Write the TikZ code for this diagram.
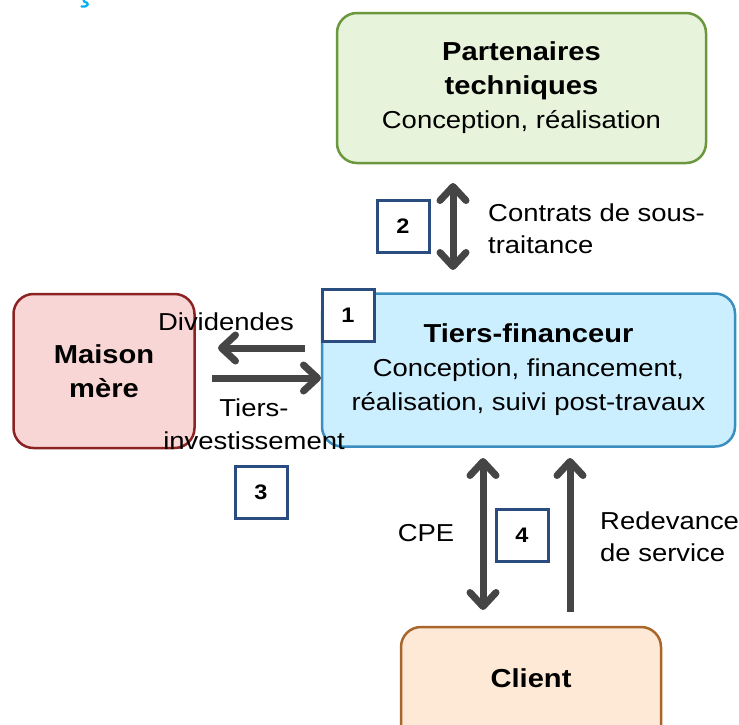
\documentclass[tikz,border=0pt]{standalone}
\usepackage{fontspec}
\setmainfont{Liberation Sans}[FakeStretch=1.12]
\usetikzlibrary{arrows.meta}
\definecolor{gfill}{HTML}{E7F3DA}
\definecolor{gdraw}{HTML}{6B973E}
\definecolor{bfill}{HTML}{CCEFFF}
\definecolor{bdraw}{HTML}{3A8FC0}
\definecolor{pfill}{HTML}{F9D6D6}
\definecolor{pdraw}{HTML}{8C2323}
\definecolor{ofill}{HTML}{FDE9D6}
\definecolor{odraw}{HTML}{A8662A}
\definecolor{navy}{HTML}{2B4C7E}
\definecolor{arrgray}{HTML}{454545}
\definecolor{topblue}{HTML}{00B0F0}
\tikzset{
  box/.style={draw, rounded corners=20pt, line width=2.5pt, align=center, inner sep=0pt,
    font=\fontsize{24.5}{34}\selectfont},
  numbox/.style={draw=navy, line width=3pt, fill=white, minimum width=52pt, minimum height=52pt,
    inner sep=0pt, font=\bfseries\fontsize{21}{25}\selectfont},
  lbl/.style={align=left, inner sep=0pt, font=\fontsize{24.5}{32}\selectfont},
  lblc/.style={align=center, inner sep=0pt, font=\fontsize{24.5}{33}\selectfont},
  arr/.style={line width=7pt, draw=arrgray, -{Straight Barb[length=14pt, width=26pt, round]}},
  darr/.style={line width=7pt, draw=arrgray, {Straight Barb[length=14pt, width=26pt, round]}-{Straight Barb[length=14pt, width=26pt, round]}},
  ttl/.style={font=\bfseries\fontsize{26}{34}\selectfont}
}
\begin{document}
\begin{tikzpicture}[x=1pt, y=-1pt]
\useasboundingbox (0,0) rectangle (739,724);
\fill[white] (0,0) rectangle (739,724);

% top partial glyph fragment (cut off in the reference)
\draw[topblue, line width=2.2pt, line cap=round] (83.5,0) -- (84.5,1.8) .. controls (89.5,2.2) and (89,7.5) .. (81.5,6.5);

% main boxes
\node[box, fill=gfill, draw=gdraw, minimum width=369pt, minimum height=150pt] (part) at (521.5,88)
  {{\bfseries\fontsize{26}{34}\selectfont Partenaires}\\{\bfseries\fontsize{26}{34}\selectfont techniques}\\Conception, réalisation};
\node[box, fill=bfill, draw=bdraw, minimum width=413pt, minimum height=153pt] (tiers) at (528.5,370)
  {{\bfseries\fontsize{26}{34}\selectfont Tiers-financeur}\\Conception, financement,\\réalisation, suivi post-travaux};
\node[box, fill=pfill, draw=pdraw, minimum width=181pt, minimum height=154pt] (maison) at (104,371)
  {{\bfseries\fontsize{26}{34}\selectfont Maison}\\{\bfseries\fontsize{26}{34}\selectfont mère}};
\node[box, fill=ofill, draw=odraw, minimum width=260pt, minimum height=120pt] (client) at (531,687) {};
\node[ttl, inner sep=0pt] (clienttxt) at (531,678) {Client};

% number boxes
\node[numbox] (n1) at (348,315) {1};
\node[numbox] (n2) at (403,226) {2};
\node[numbox] (n3) at (261,492.5) {3};
\node[numbox] (n4) at (522,535) {4};

% arrow endpoints
\coordinate (p2a) at (453,183);
\coordinate (p2b) at (453,270);
\coordinate (dva) at (305,348);
\coordinate (dvb) at (218,348);
\coordinate (tia) at (212,378);
\coordinate (tib) at (321,378);
\coordinate (cpa) at (483,458);
\coordinate (cpb) at (483,610);
\coordinate (rda) at (570,612);
\coordinate (rdb) at (570,458);

\draw[darr] (p2a) -- (p2b);
\draw[arr] (dva) -- (dvb);
\draw[arr] (tia) -- (tib);
\draw[darr] (cpa) -- (cpb);
\draw[arr] (rda) -- (rdb);

% labels
\node[lbl, anchor=west] (l2) at (488,229) {Contrats de sous-\\traitance};
\node[lblc] (ldiv) at (226,322) {Dividendes};
\node[lblc] (ltiers) at (254,424) {Tiers-\\investissement};
\node[lblc] (lcpe) at (426,533) {CPE};
\node[lbl, anchor=west] (lred) at (600,537) {Redevance\\de service};
\end{tikzpicture}
\end{document}
